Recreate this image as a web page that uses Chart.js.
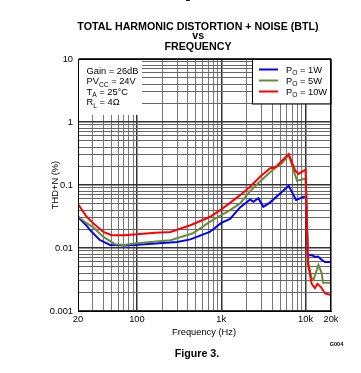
<!DOCTYPE html>
<html>
<head>
<meta charset="utf-8">
<script src="https://cdn.jsdelivr.net/npm/chart.js@4.4.1/dist/chart.umd.min.js"></script>
<style>
  html, body { margin: 0; padding: 0; background: #fff; }
  #wrap { width: 361px; height: 373px; }
</style>
</head>
<body>
<div id="wrap"><canvas id="thd" width="361" height="373"></canvas></div>
<script>
// THD+N vs frequency (BTL), three output power levels.

const F_1W  = [20, 25, 28, 36, 48, 75, 150, 300, 430, 730, 1000, 1270, 1670, 2200, 2400, 2750, 3150, 3800, 6300, 7700, 9500, 10100, 10600, 11800, 13000, 14000, 15500, 17000, 20000];
const V_1W  = [0.031, 0.023, 0.019, 0.0135, 0.0112, 0.011, 0.0117, 0.0125, 0.0137, 0.018, 0.025, 0.029, 0.044, 0.059, 0.054, 0.0615, 0.045, 0.053, 0.097, 0.058, 0.065, 0.065, 0.0077, 0.0077, 0.0072, 0.0073, 0.0065, 0.006, 0.006];

const F_5W  = [20, 25, 30, 40, 55, 70, 100, 250, 460, 730, 1000, 1270, 1670, 2200, 2900, 3800, 4400, 5200, 6300, 7900, 10000, 10700, 11800, 12400, 14200, 15500, 16100, 17700, 20000];
const V_5W  = [0.032, 0.025, 0.0215, 0.015, 0.0115, 0.0112, 0.0119, 0.0133, 0.0171, 0.026, 0.0334, 0.040, 0.051, 0.08, 0.115, 0.16, 0.19, 0.22, 0.30, 0.117, 0.127, 0.006, 0.0033, 0.0031, 0.0054, 0.004, 0.0028, 0.0028, 0.0028];

const F_10W = [20, 25, 30, 40, 50, 70, 100, 165, 250, 430, 730, 1000, 1270, 1670, 2200, 2900, 3800, 4400, 5200, 6300, 7500, 8200, 10000, 10700, 11800, 12900, 13800, 15200, 17000, 20000];
const V_10W = [0.05, 0.032, 0.025, 0.018, 0.016, 0.016, 0.0165, 0.0175, 0.018, 0.023, 0.031, 0.041, 0.052, 0.069, 0.094, 0.136, 0.185, 0.19, 0.24, 0.31, 0.17, 0.15, 0.175, 0.0055, 0.0027, 0.0023, 0.0027, 0.0024, 0.0019, 0.0018];

const X_GRID = [20, 30, 40, 50, 60, 70, 80, 90, 100, 200, 300, 400, 500, 600, 700, 800, 900,
                1000, 2000, 3000, 4000, 5000, 6000, 7000, 8000, 9000, 10000, 20000];
const X_LABELS = { 20: '20', 100: '100', 1000: '1k', 10000: '10k', 20000: '20k' };
const X_MAJOR = [100, 1000, 10000];

const Y_GRID = [0.001, 0.002, 0.003, 0.004, 0.005, 0.006, 0.007, 0.008, 0.009,
                0.01, 0.02, 0.03, 0.04, 0.05, 0.06, 0.07, 0.08, 0.09,
                0.1, 0.2, 0.3, 0.4, 0.5, 0.6, 0.7, 0.8, 0.9,
                1, 2, 3, 4, 5, 6, 7, 8, 9, 10];
const Y_LABELS = { 0.001: '0.001', 0.01: '0.01', 0.1: '0.1', 1: '1', 10: '10' };

const SERIES = [
  { label: '10W', f: F_10W, v: V_10W, color: '#ff0000' },
  { label: '5W',  f: F_5W,  v: V_5W,  color: '#6b8a3a' },
  { label: '1W',  f: F_1W,  v: V_1W,  color: '#0000ff' },
];
const LEGEND_ORDER = ['1W', '5W', '10W'];

const NOTES = [
  [['Gain = 26dB']],
  [['PV'], ['CC', true], [' = 24V']],
  [['T'], ['A', true], [' = 25°C']],
  [['R'], ['L', true], [' = 4Ω']],
];

const FONT = '"Liberation Sans", Arial, sans-serif';

function richText(ctx, parts, x, y, size) {
  let cx = x;
  parts.forEach(([t, sub]) => {
    ctx.font = (sub ? size * 0.72 : size) + 'px ' + FONT;
    ctx.fillText(t, cx, sub ? y + size * 0.28 : y);
    cx += ctx.measureText(t).width;
  });
}

const decor = {
  id: 'decor',
  beforeDraw(chart) {
    const ctx = chart.ctx;
    ctx.save();
    ctx.fillStyle = '#fff';
    ctx.fillRect(0, 0, chart.width, chart.height);
    ctx.restore();
  },
  beforeDatasetsDraw(chart) {
    const ctx = chart.ctx;
    const a = chart.chartArea;
    ctx.save();
    // conditions box (top-left, no border)
    ctx.fillStyle = '#fff';
    ctx.fillRect(a.left + 1, a.top + 1, 63, 55);
    ctx.fillStyle = '#000';
    ctx.textBaseline = 'alphabetic';
    ctx.textAlign = 'left';
    NOTES.forEach((parts, i) => richText(ctx, parts, 86.5, 73.5 + i * 10.6, 9.3));

    // legend box (top-right)
    const lx = 252.5, ly = a.top, lw = a.right - 252.5, lh = 44.5;
    ctx.fillStyle = '#fff';
    ctx.fillRect(lx, ly, lw, lh);
    ctx.strokeStyle = '#000';
    ctx.lineWidth = 1;
    ctx.strokeRect(lx, ly + 0.5, lw, lh);
    LEGEND_ORDER.forEach((lab, i) => {
      const s = SERIES.find(d => d.label === lab);
      const y = 69.5 + i * 11;
      ctx.strokeStyle = s.color;
      ctx.lineWidth = 2;
      ctx.beginPath();
      ctx.moveTo(259, y);
      ctx.lineTo(278, y);
      ctx.stroke();
      ctx.fillStyle = '#000';
      richText(ctx, [['P'], ['O', true], [' = ' + lab]], 286, y + 3.3, 9.3);
    });
    ctx.restore();
  },
  afterDraw(chart) {
    const ctx = chart.ctx;
    const a = chart.chartArea;
    ctx.save();
    ctx.strokeStyle = '#000';
    ctx.lineWidth = 1;
    ctx.strokeRect(a.left + 0.5, a.top + 0.5, a.right - a.left - 1, a.bottom - a.top);

    ctx.fillStyle = '#000';
    ctx.textAlign = 'center';
    ctx.textBaseline = 'alphabetic';
    ctx.font = 'bold 10.7px ' + FONT;
    ctx.fillText('Figure 4.', 197.5, -1);
    ctx.fillText('TOTAL HARMONIC DISTORTION + NOISE (BTL)', 198, 29.5);
    ctx.fillText('vs', 198.3, 38.5);
    ctx.fillText('FREQUENCY', 198, 50);
    ctx.fillText('Figure 3.', 197, 356.5);

    ctx.font = '9.3px ' + FONT;
    ctx.fillText('Frequency (Hz)', 204, 334.5);

    ctx.font = 'bold 5.5px ' + FONT;
    ctx.fillText('G004', 336.5, 345.5);

    ctx.translate(55, 185);
    ctx.rotate(-Math.PI / 2);
    ctx.font = '9.3px ' + FONT;
    ctx.textBaseline = 'middle';
    ctx.fillText('THD+N (%)', 0, 0);
    ctx.restore();
  }
};

new Chart(document.getElementById('thd'), {
  type: 'line',
  data: {
    datasets: SERIES.map((s, i) => ({
      label: s.label,
      data: s.f.map((f, k) => ({ x: f, y: s.v[k] })),
      borderColor: s.color,
      borderWidth: 2,
      pointRadius: 0,
      tension: 0,
      fill: false,
      order: i,
    }))
  },
  options: {
    responsive: false,
    animation: false,
    layout: { padding: { top: 59, right: 30, bottom: 0, left: 0 } },
    plugins: { legend: { display: false }, tooltip: { enabled: false } },
    scales: {
      x: {
        type: 'logarithmic',
        min: 20,
        max: 20000,
        afterBuildTicks: (axis) => { axis.ticks = X_GRID.map(v => ({ value: v })); },
        afterFit: (axis) => { axis.height = 62; },
        grid: {
          drawTicks: false,
          color: (c) => X_MAJOR.includes(c.tick && c.tick.value) ? '#333' : '#777',
          lineWidth: (c) => X_MAJOR.includes(c.tick && c.tick.value) ? 1.5 : 1,
        },
        border: { color: '#000', width: 1 },
        ticks: {
          autoSkip: false,
          maxRotation: 0,
          padding: 3,
          color: '#000',
          font: { family: FONT, size: 9.3 },
          callback: (v) => X_LABELS[v] || '',
        }
      },
      y: {
        type: 'logarithmic',
        min: 0.001,
        max: 10,
        afterBuildTicks: (axis) => { axis.ticks = Y_GRID.map(v => ({ value: v })); },
        afterFit: (axis) => { axis.width = 78; },
        grid: {
          drawTicks: false,
          color: (c) => (c.tick && Y_LABELS[c.tick.value]) ? '#333' : '#666',
          lineWidth: (c) => (c.tick && Y_LABELS[c.tick.value]) ? 1.5 : 1,
        },
        border: { color: '#000', width: 1 },
        ticks: {
          autoSkip: false,
          padding: 5,
          color: '#000',
          font: { family: FONT, size: 9.3 },
          callback: (v) => Y_LABELS[v] || '',
        }
      }
    }
  },
  plugins: [decor]
});
</script>
</body>
</html>
